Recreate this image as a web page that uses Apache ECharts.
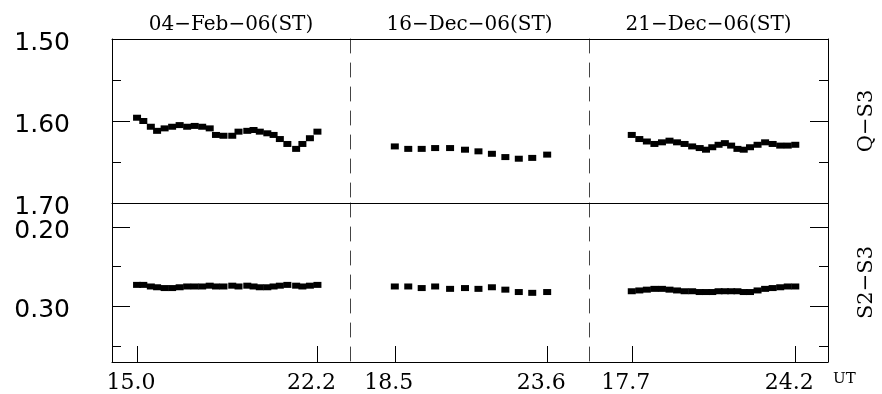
<!DOCTYPE html>
<html>
<head>
<meta charset="utf-8">
<script src="https://cdn.jsdelivr.net/npm/echarts@6/dist/echarts.min.js"></script>
<style>
  html, body { margin: 0; padding: 0; background: #fff; }
  #chart { width: 882px; height: 394px; }
</style>
</head>
<body>
<div id="chart"></div>
<script>
// Night labels, panel names and axis settings
const nightTitles = ['04−Feb−06(ST)', '16−Dec−06(ST)', '21−Dec−06(ST)'];
const panelNames = ['Q−S3', 'S2−S3'];
const utRanges = [[14.0, 23.5], [17.0, 25.0], [16.0, 25.5]];
const utTicks = [[15.0, 22.2], [18.5, 23.6], [17.7, 24.2]];
const qs3Range = [1.50, 1.70];
const qs3Major = [1.50, 1.60, 1.70];
const qs3Minor = [1.55, 1.65];
const s2s3Range = [0.17, 0.37];
const s2s3Major = [0.20, 0.30];
const s2s3Minor = [0.25, 0.35];

// 04 Feb 2006
const feb04Time = [15.0, 15.25, 15.55, 15.8, 16.1, 16.4, 16.7, 17.0, 17.3, 17.6, 17.9, 18.15, 18.45,
                   18.8, 19.05, 19.4, 19.65, 19.9, 20.2, 20.45, 20.7, 21.0, 21.35, 21.6, 21.9, 22.2];
const feb04QS3 = [1.596, 1.600, 1.607, 1.612, 1.609, 1.607, 1.605, 1.607, 1.606, 1.607, 1.609, 1.617, 1.618,
                  1.618, 1.613, 1.612, 1.611, 1.613, 1.615, 1.617, 1.622, 1.628, 1.634, 1.628, 1.621, 1.613];
const feb04S2S3 = [0.273, 0.273, 0.275, 0.276, 0.277, 0.277, 0.276, 0.275, 0.275, 0.275, 0.274, 0.275, 0.275,
                   0.274, 0.275, 0.274, 0.275, 0.276, 0.276, 0.275, 0.274, 0.273, 0.274, 0.275, 0.274, 0.273];

// 16 Dec 2006
const dec16Time = [18.5, 18.95, 19.4, 19.85, 20.35, 20.85, 21.3, 21.75, 22.2, 22.65, 23.1, 23.6];
const dec16QS3 = [1.631, 1.634, 1.634, 1.633, 1.633, 1.635, 1.637, 1.640, 1.644, 1.646, 1.645, 1.641];
const dec16S2S3 = [0.275, 0.275, 0.277, 0.275, 0.278, 0.277, 0.278, 0.276, 0.279, 0.282, 0.283, 0.282];

// 21 Dec 2006
const dec21Time = [17.7, 18.0, 18.3, 18.6, 18.9, 19.2, 19.5, 19.8, 20.1, 20.4, 20.65, 20.9,
                   21.15, 21.4, 21.65, 21.9, 22.15, 22.4, 22.7, 23.0, 23.3, 23.6, 23.9, 24.2];
const dec21QS3 = [1.617, 1.622, 1.625, 1.628, 1.626, 1.624, 1.626, 1.628, 1.631, 1.633, 1.635, 1.632,
                  1.629, 1.627, 1.630, 1.634, 1.635, 1.632, 1.629, 1.626, 1.628, 1.630, 1.630, 1.629];
const dec21S2S3 = [0.281, 0.280, 0.279, 0.278, 0.278, 0.279, 0.280, 0.281, 0.281, 0.282, 0.282, 0.282,
                   0.281, 0.281, 0.281, 0.281, 0.282, 0.282, 0.280, 0.278, 0.277, 0.276, 0.275, 0.275];

const nights = [
  { time: feb04Time, qs3: feb04QS3, s2s3: feb04S2S3 },
  { time: dec16Time, qs3: dec16QS3, s2s3: dec16S2S3 },
  { time: dec21Time, qs3: dec21QS3, s2s3: dec21S2S3 }
];

// Panel layout (pixels)
const colLeft = [112, 350, 589];
const colWidth = [238, 239, 239];
const rowTop = [39, 203];
const rowHeight = [164, 164];

const ink = '#000';
const dashInk = '#444';
const serif = 'DejaVu Serif';
const sans = 'DejaVu Sans';

const grid = [];
for (let r = 0; r < 2; r++) {
  for (let c = 0; c < 3; c++) {
    grid.push({ left: colLeft[c], top: rowTop[r], width: colWidth[c], height: rowHeight[r], containLabel: false });
  }
}

const solidLine = { show: true, onZero: false, lineStyle: { color: ink, width: 1 } };
const dashedLine = { show: true, onZero: false, lineStyle: { color: dashInk, width: 1, type: [14, 10] } };
const noLine = { show: false };

const xAxis = [];
const xIndexFor = {};
for (let c = 0; c < 3; c++) {
  // top border with night label
  xAxis.push({
    gridIndex: c, type: 'value', position: 'top',
    min: utRanges[c][0], max: utRanges[c][1],
    axisLine: solidLine, axisTick: { show: false }, axisLabel: { show: false }, splitLine: { show: false },
    name: nightTitles[c], nameLocation: 'middle', nameGap: 4,
    nameTextStyle: { fontFamily: serif, fontSize: 20, color: ink }
  });
  xIndexFor['0_' + c] = xAxis.length - 1;
  // line between the two panels
  xAxis.push({
    gridIndex: c, type: 'value', position: 'bottom',
    min: utRanges[c][0], max: utRanges[c][1],
    axisLine: solidLine, axisTick: { show: false }, axisLabel: { show: false }, splitLine: { show: false }
  });
  // UT axis at the bottom
  const ax = {
    gridIndex: 3 + c, type: 'value', position: 'bottom',
    min: utRanges[c][0], max: utRanges[c][1],
    axisLine: solidLine,
    axisTick: { show: true, inside: true, length: 16, customValues: utTicks[c], lineStyle: { color: ink, width: 1 } },
    axisLabel: {
      show: true, customValues: utTicks[c], margin: 6,
      formatter: v => '{t|' + v.toFixed(1) + '}',
      rich: { t: { fontFamily: serif, fontSize: 22, color: ink, padding: [4, 12, 0, 0] } }
    },
    splitLine: { show: false }
  };
  if (c === 2) {
    ax.name = 'UT';
    ax.nameLocation = 'end';
    ax.nameGap = 5;
    ax.nameTextStyle = { fontFamily: serif, fontSize: 15, color: ink, verticalAlign: 'top', padding: [10, 0, 0, 0] };
  }
  xAxis.push(ax);
  xIndexFor['1_' + c] = xAxis.length - 1;
}

const yAxis = [];
const yIndexFor = {};
for (let r = 0; r < 2; r++) {
  const range = r === 0 ? qs3Range : s2s3Range;
  const major = r === 0 ? qs3Major : s2s3Major;
  const minor = r === 0 ? qs3Minor : s2s3Minor;
  for (let c = 0; c < 3; c++) {
    const g = r * 3 + c;
    const base = { gridIndex: g, type: 'value', inverse: true, min: range[0], max: range[1], splitLine: { show: false } };
    if (c === 0) {
      yAxis.push(Object.assign({}, base, {
        position: 'left', axisLine: solidLine,
        axisTick: { show: true, inside: true, length: 18, customValues: major, lineStyle: { color: ink, width: 1 } },
        axisLabel: {
          show: true, customValues: major, margin: 42,
          formatter: v => '{t|' + v.toFixed(2) + '}',
          rich: { t: { fontFamily: sans, fontSize: 25, color: ink, padding: [9, 0, 0, 0] } }
        }
      }));
      yIndexFor[r + '_' + c] = yAxis.length - 1;
      yAxis.push(Object.assign({}, base, {
        position: 'left', axisLine: noLine,
        axisTick: { show: true, inside: true, length: 9, customValues: minor, lineStyle: { color: ink, width: 1 } },
        axisLabel: { show: false }
      }));
    } else if (c === 1) {
      yAxis.push(Object.assign({}, base, {
        position: 'left', axisLine: dashedLine, axisTick: { show: false }, axisLabel: { show: false }
      }));
      yIndexFor[r + '_' + c] = yAxis.length - 1;
      yAxis.push(Object.assign({}, base, {
        position: 'right', axisLine: dashedLine, axisTick: { show: false }, axisLabel: { show: false }
      }));
    } else {
      yAxis.push(Object.assign({}, base, {
        position: 'right', axisLine: solidLine,
        axisTick: { show: true, inside: true, length: 18, customValues: major, lineStyle: { color: ink, width: 1 } },
        axisLabel: { show: false },
        name: panelNames[r], nameLocation: 'middle', nameGap: 28, nameRotate: 90,
        nameTextStyle: { fontFamily: serif, fontSize: 21, color: ink }
      }));
      yIndexFor[r + '_' + c] = yAxis.length - 1;
      yAxis.push(Object.assign({}, base, {
        position: 'right', axisLine: noLine,
        axisTick: { show: true, inside: true, length: 9, customValues: minor, lineStyle: { color: ink, width: 1 } },
        axisLabel: { show: false }
      }));
    }
  }
}

const series = [];
for (let r = 0; r < 2; r++) {
  for (let c = 0; c < 3; c++) {
    const n = nights[c];
    const vals = r === 0 ? n.qs3 : n.s2s3;
    series.push({
      type: 'scatter',
      name: panelNames[r] + ' ' + nightTitles[c],
      xAxisIndex: xIndexFor[r + '_' + c],
      yAxisIndex: yIndexFor[r + '_' + c],
      data: n.time.map((t, i) => [t, vals[i]]),
      symbol: 'rect',
      symbolSize: [8, 6],
      itemStyle: { color: ink, opacity: 1 },
      silent: true
    });
  }
}

const chart = echarts.init(document.getElementById('chart'), null, { renderer: 'canvas' });
chart.setOption({
  animation: false,
  backgroundColor: '#fff',
  grid, xAxis, yAxis, series
});
</script>
</body>
</html>
